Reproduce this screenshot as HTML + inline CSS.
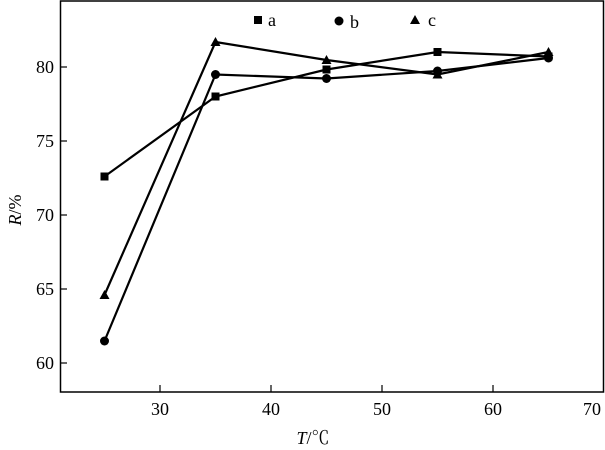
<!DOCTYPE html>
<html><head><style>body{margin:0;background:#fff}svg{display:block}</style></head><body>
<svg width="605" height="450" viewBox="0 0 605 450" xmlns="http://www.w3.org/2000/svg" font-family="Liberation Serif, 'Noto Serif CJK SC', serif" font-size="18">
<rect x="60.5" y="1" width="543" height="391" fill="none" stroke="#000" stroke-width="1.5"/>
<g stroke="#000" stroke-width="1.2">
<line x1="160" y1="392" x2="160" y2="385"/><line x1="271" y1="392" x2="271" y2="385"/><line x1="382" y1="392" x2="382" y2="385"/><line x1="493" y1="392" x2="493" y2="385"/>
<line x1="60" y1="67" x2="67" y2="67"/><line x1="60" y1="141" x2="67" y2="141"/><line x1="60" y1="215" x2="67" y2="215"/><line x1="60" y1="289" x2="67" y2="289"/><line x1="60" y1="363" x2="67" y2="363"/>
</g>
<g text-anchor="middle">
<text x="160" y="415">30</text><text x="271" y="415">40</text><text x="382" y="415">50</text><text x="493" y="415">60</text><text x="592" y="415">70</text>
</g>
<g text-anchor="end">
<text x="54" y="73">80</text><text x="54" y="147">75</text><text x="54" y="221">70</text><text x="54" y="295">65</text><text x="54" y="369">60</text>
</g>
<text x="313" y="444" text-anchor="middle"><tspan font-style="italic">T</tspan>/℃</text>
<text transform="translate(21,210) rotate(-90)" text-anchor="middle"><tspan font-style="italic">R</tspan>/%</text>
<g fill="none" stroke="#000" stroke-width="2.2">
<polyline points="104.5,176.5 215.5,96.5 326.5,69.5 437.5,52 548.5,56.5"/>
<polyline points="104.5,341 215.5,74.5 326.5,78.5 437.5,71 548.5,58"/>
<polyline points="104.5,295 215.5,42 326.5,60 437.5,74.5 548.5,52"/>
</g>
<g fill="#000">
<rect x="100.5" y="172.5" width="8" height="8"/><rect x="211.5" y="92.5" width="8" height="8"/><rect x="322.5" y="65.5" width="8" height="8"/><rect x="433.5" y="48" width="8" height="8"/><rect x="544.5" y="52.5" width="8" height="8"/>
<circle cx="104.5" cy="341" r="4.5"/><circle cx="215.5" cy="74.5" r="4.5"/><circle cx="326.5" cy="78.5" r="4.5"/><circle cx="437.5" cy="71" r="4.5"/><circle cx="548.5" cy="58" r="4.5"/>
<path d="M104.5,290 l5,9 h-10z M215.5,37 l5,9 h-10z M326.5,55 l5,9 h-10z M437.5,69.5 l5,9 h-10z M548.5,47 l5,9 h-10z"/>
<rect x="254" y="16" width="8" height="8"/><text x="268" y="26">a</text>
<circle cx="339" cy="21" r="4.5"/><text x="350" y="28">b</text>
<path d="M415,15 l5,9 h-10z"/><text x="428" y="26">c</text>
</g>
</svg>
</body></html>
